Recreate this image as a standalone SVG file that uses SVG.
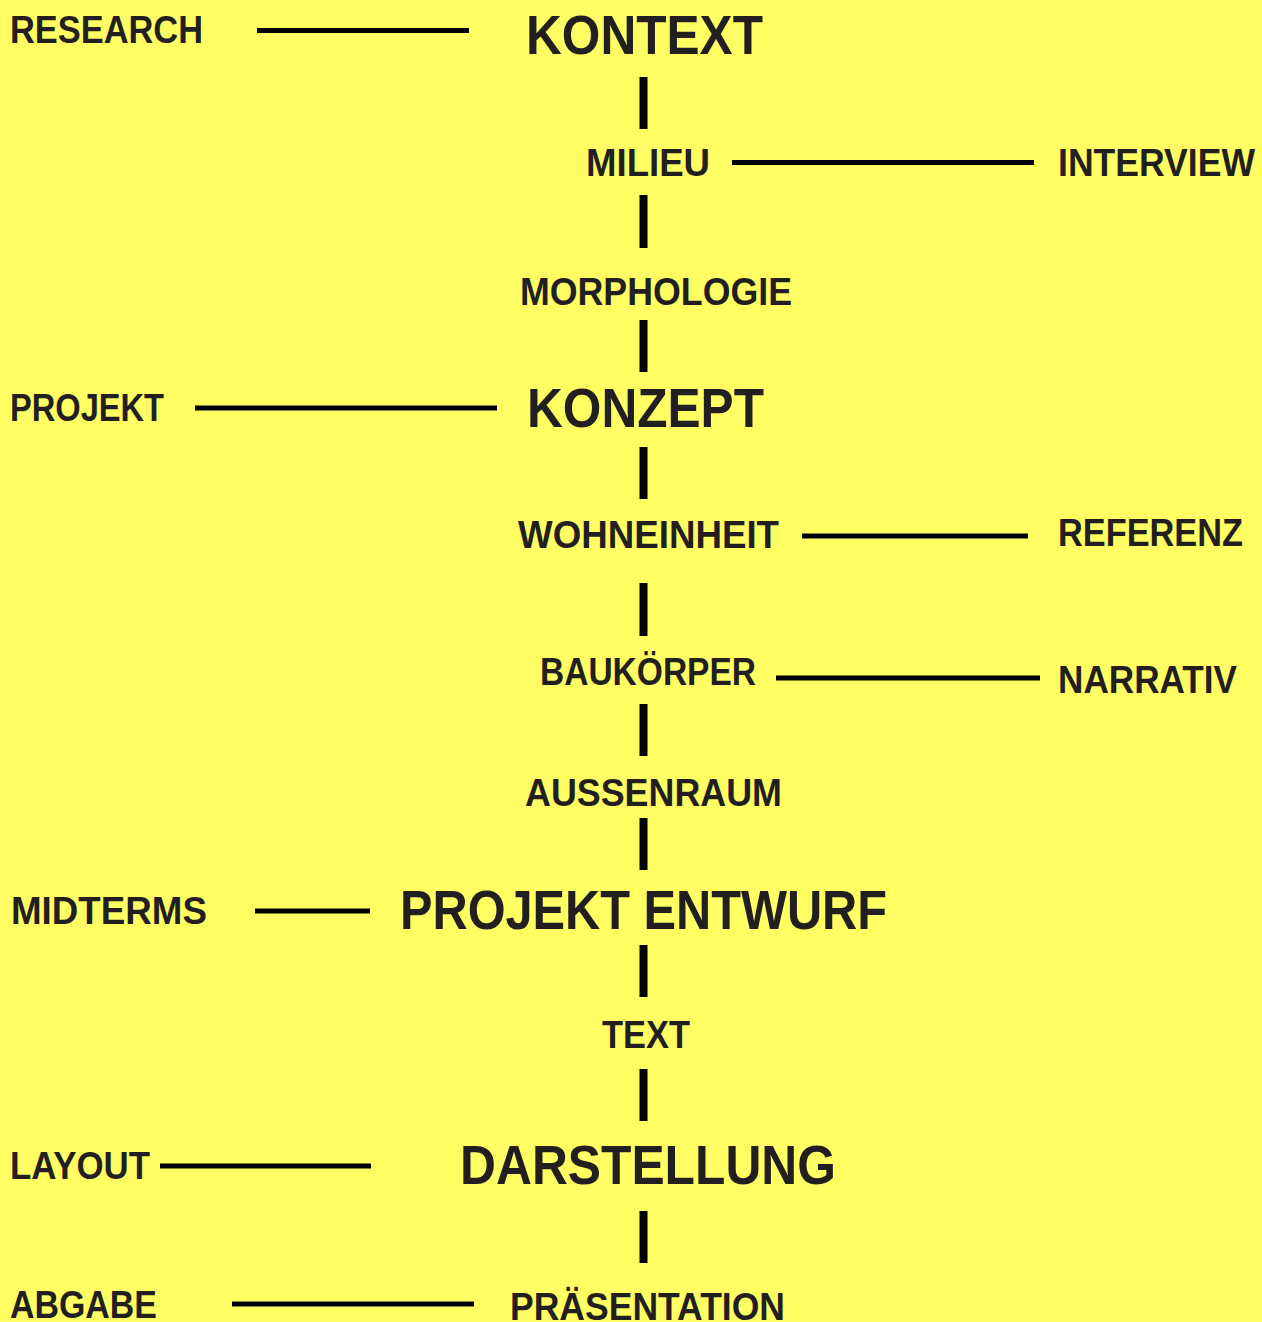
<svg xmlns="http://www.w3.org/2000/svg" width="1262" height="1322" viewBox="0 0 1262 1322">
<style>
.t{font-family:"Liberation Sans","Arial",sans-serif;font-weight:bold;fill:#231f20}
.s{font-size:38px}
.b{font-size:56px}
.h{stroke:#000;stroke-width:5;fill:none}
.v{stroke:#000;stroke-width:8;fill:none}
</style>
<rect width="1262" height="1322" fill="#ffff64"/>
<g id="connectors">
<line class="h" x1="257" y1="30.5" x2="469" y2="30.5"/>
<line class="h" x1="732" y1="162.5" x2="1034" y2="162.5"/>
<line class="h" x1="195" y1="408" x2="497" y2="408"/>
<line class="h" x1="802" y1="536" x2="1028" y2="536"/>
<line class="h" x1="776" y1="678" x2="1040" y2="678"/>
<line class="h" x1="255" y1="911" x2="370" y2="911"/>
<line class="h" x1="160" y1="1166" x2="371" y2="1166"/>
<line class="h" x1="232" y1="1304" x2="474" y2="1304"/>
<line class="v" x1="643.5" y1="77" x2="643.5" y2="129"/>
<line class="v" x1="643.5" y1="195" x2="643.5" y2="248"/>
<line class="v" x1="643.5" y1="320" x2="643.5" y2="372"/>
<line class="v" x1="643.5" y1="447" x2="643.5" y2="499"/>
<line class="v" x1="643.5" y1="583" x2="643.5" y2="636"/>
<line class="v" x1="643.5" y1="704" x2="643.5" y2="756"/>
<line class="v" x1="643.5" y1="818" x2="643.5" y2="870"/>
<line class="v" x1="643.5" y1="945" x2="643.5" y2="997"/>
<line class="v" x1="643.5" y1="1069" x2="643.5" y2="1121"/>
<line class="v" x1="643.5" y1="1211" x2="643.5" y2="1263"/>
</g>
<g id="research"><text class="t s" x="10" y="42.5" textLength="193" lengthAdjust="spacingAndGlyphs">RESEARCH</text></g>
<g id="kontext"><text class="t b" x="526" y="53.5" textLength="237" lengthAdjust="spacingAndGlyphs">KONTEXT</text></g>
<g id="milieu"><text class="t s" x="586" y="176" textLength="124" lengthAdjust="spacingAndGlyphs">MILIEU</text></g>
<g id="interview"><text class="t s" x="1058" y="176" textLength="197" lengthAdjust="spacingAndGlyphs">INTERVIEW</text></g>
<g id="morphologie"><text class="t s" x="520" y="305" textLength="272" lengthAdjust="spacingAndGlyphs">MORPHOLOGIE</text></g>
<g id="projekt"><text class="t s" x="10" y="421" textLength="154" lengthAdjust="spacingAndGlyphs">PROJEKT</text></g>
<g id="konzept"><text class="t b" x="527" y="427" textLength="237" lengthAdjust="spacingAndGlyphs">KONZEPT</text></g>
<g id="wohneinheit"><text class="t s" x="518" y="548" textLength="261" lengthAdjust="spacingAndGlyphs">WOHNEINHEIT</text></g>
<g id="referenz"><text class="t s" x="1058" y="546" textLength="185" lengthAdjust="spacingAndGlyphs">REFERENZ</text></g>
<g id="baukoerper"><text class="t s" x="540" y="685" textLength="216" lengthAdjust="spacingAndGlyphs">BAUKÖRPER</text></g>
<g id="narrativ"><text class="t s" x="1058" y="693" textLength="179" lengthAdjust="spacingAndGlyphs">NARRATIV</text></g>
<g id="aussenraum"><text class="t s" x="525" y="806" textLength="257" lengthAdjust="spacingAndGlyphs">AUSSENRAUM</text></g>
<g id="midterms"><text class="t s" x="11" y="924" textLength="196" lengthAdjust="spacingAndGlyphs">MIDTERMS</text></g>
<g id="projekt-entwurf"><text class="t b" x="400" y="929" textLength="487" lengthAdjust="spacingAndGlyphs">PROJEKT ENTWURF</text></g>
<g id="text"><text class="t s" x="602" y="1048" textLength="88" lengthAdjust="spacingAndGlyphs">TEXT</text></g>
<g id="layout"><text class="t s" x="10" y="1179" textLength="140" lengthAdjust="spacingAndGlyphs">LAYOUT</text></g>
<g id="darstellung"><text class="t b" x="460" y="1184" textLength="376" lengthAdjust="spacingAndGlyphs">DARSTELLUNG</text></g>
<g id="abgabe"><text class="t s" x="10" y="1318" textLength="147" lengthAdjust="spacingAndGlyphs">ABGABE</text></g>
<g id="praesentation"><text class="t s" x="510" y="1320" textLength="275" lengthAdjust="spacingAndGlyphs">PRÄSENTATION</text></g>
</svg>
